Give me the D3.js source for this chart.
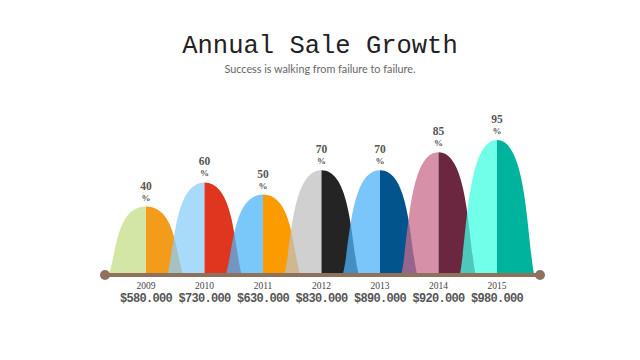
<!DOCTYPE html>
<html>
<head>
<meta charset="utf-8">
<script src="https://cdn.jsdelivr.net/npm/d3@7"></script>
<style>
  body{margin:0;background:#fff;}
  svg{display:block;}
</style>
</head>
<body>
<div id="chart"></div>
<script>
var years = ['2009','2010','2011','2012','2013','2014','2015'];
var growth = [40, 60, 50, 70, 70, 85, 95];
var sales = ['$580.000','$730.000','$630.000','$830.000','$890.000','$920.000','$980.000'];
var leftColors = ['#c6de87','#8bcef8','#4eb6f8','#c0c0c0','#4eb3f8','#c86b8b','#43ffe3'];
var rightColors = ['#f39c1c','#e0361f','#fb9b00','#242424','#02548d','#6b2640','#00b39d'];

var W = 640, H = 360, base = 274, halfW = 37;

var svg = d3.select('#chart').append('svg')
  .attr('width', W)
  .attr('height', H);

svg.append('text')
  .attr('x', 320).attr('y', 53)
  .attr('text-anchor', 'middle')
  .style('font-family', '"Liberation Mono","Courier New",monospace')
  .style('font-size', '25.5px')
  .attr('fill', '#222')
  .text('Annual Sale Growth');

svg.append('text')
  .attr('x', 320).attr('y', 73)
  .attr('text-anchor', 'middle')
  .style('font-family', 'Lato, "Open Sans", sans-serif')
  .style('font-size', '10.8px')
  .attr('fill', '#666')
  .text('Success is walking from failure to failure.');

var x = d3.scalePoint().domain(years).range([146, 497]);
var y = d3.scaleLinear().domain([0, 100]).range([base - 19, base - 140]);

var data = years.map(function(d, i){
  return {year: d, v: growth[i], sale: sales[i], left: leftColors[i], right: rightColors[i]};
});

// half of a bell: from the base edge up to the peak at the centre
function halfPath(cx, top, dir){
  var x0 = cx + dir * halfW, k = 0.8 * halfW, h = base - top;
  return 'M' + cx + ',' + base +
    'L' + x0 + ',' + base +
    'C' + (cx + dir * k) + ',' + (base - 0.3 * h) + ' ' + (cx + dir * k) + ',' + top + ' ' + cx + ',' + top + 'Z';
}

var g = svg.selectAll('.bell')
  .data(data)
  .enter().append('g')
    .attr('class', 'bell');

g.append('path')
  .attr('d', function(d){ return halfPath(x(d.year), y(d.v), -1); })
  .attr('fill', function(d){ return d.left; })
  .attr('fill-opacity', 0.75);

g.append('path')
  .attr('d', function(d){ return halfPath(x(d.year), y(d.v), 1); })
  .attr('fill', function(d){ return d.right; });

// baseline
svg.append('line')
  .attr('x1', 105).attr('x2', 540)
  .attr('y1', base + 1).attr('y2', base + 1)
  .attr('stroke', '#8f725e')
  .attr('stroke-width', 4);
svg.selectAll('.end')
  .data([105, 540])
  .enter().append('circle')
    .attr('class', 'end')
    .attr('cx', function(d){ return d; })
    .attr('cy', base + 1)
    .attr('r', 5)
    .attr('fill', '#8f725e');

var labels = svg.selectAll('.lab')
  .data(data)
  .enter().append('g')
    .attr('class', 'lab');

labels.append('text')
  .attr('x', function(d){ return x(d.year); })
  .attr('y', function(d){ return y(d.v) - 17; })
  .attr('text-anchor', 'middle')
  .style('font-family', '"Liberation Serif", serif')
  .style('font-size', '11.5px')
  .style('font-weight', 'bold')
  .attr('fill', '#555')
  .text(function(d){ return d.v; });

labels.append('text')
  .attr('x', function(d){ return x(d.year); })
  .attr('y', function(d){ return y(d.v) - 6; })
  .attr('text-anchor', 'middle')
  .style('font-family', '"Liberation Serif", serif')
  .style('font-size', '9px')
  .style('font-weight', 'bold')
  .attr('fill', '#555')
  .text('%');

labels.append('text')
  .attr('x', function(d){ return x(d.year); })
  .attr('y', 289)
  .attr('text-anchor', 'middle')
  .style('font-family', '"Liberation Serif", serif')
  .style('font-size', '9.5px')
  .attr('fill', '#444')
  .text(function(d){ return d.year; });

labels.append('text')
  .attr('x', function(d){ return x(d.year); })
  .attr('y', 302)
  .attr('text-anchor', 'middle')
  .style('font-family', '"Liberation Mono", monospace')
  .style('font-size', '12px')
  .style('font-weight', 'bold')
  .style('letter-spacing', '-0.7px')
  .attr('fill', '#555')
  .text(function(d){ return d.sale; });
</script>
</body>
</html>
